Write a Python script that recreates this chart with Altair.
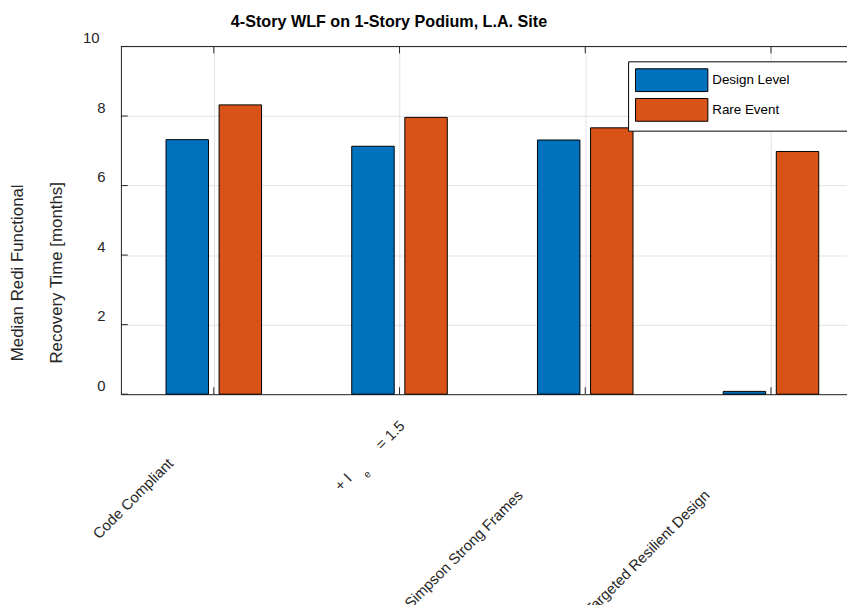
import json
import altair as alt
import pandas as pd

# ---- data ----
NB = "\u00a0"   # non-breaking space (kept by the renderer)
ZW = "\u200b"   # zero-width char that stops trailing spaces being trimmed
categories = ["Code Compliant", "+ I_e = 1.5", "+ Simpson Strong Frames", "Targeted Resilient Design"]
# how each tick label is drawn (the second one mimics the broken TeX subscript of the original)
category_labels = [
    "Code Compliant",
    ["+ I" + NB * 10 + "= 1.5", "\u2091" + NB * 14 + ZW],
    "+ Simpson Strong Frames",
    "Targeted Resilient Design",
]
series = ["Design Level", "Rare Event"]
design_level = [7.32, 7.13, 7.31, 0.08]
rare_event = [8.32, 7.96, 7.66, 6.98]
y_ticks = [0, 2, 4, 6, 8, 10]
x_ticks = [1, 2, 3, 4]
title_text = "4-Story WLF on 1-Story Podium, L.A. Site"
y_title = ["Median Redi Functional", "Recovery Time [months]"]

rows = []
for i, c in enumerate(categories):
    rows.append({"category": c, "idx": i + 1, "series": series[0], "value": design_level[i]})
    rows.append({"category": c, "idx": i + 1, "series": series[1], "value": rare_event[i]})
df = pd.DataFrame(rows)

# ---- styling ----
FONT = "Liberation Sans"
AX = "#262626"
GRID = "#e3e3e3"
COLORS = ["#0072BD", "#D95319"]
GROUP_OFFSET = 0.1429
BAR_HALF = 0.1143
W, H = 733, 351
PX_X = 187.5          # pixels per category unit
PX_Y = H / 10.0       # pixels per y unit
X_DOMAIN = [0.5, 0.5 + W / PX_X]
TICK_LEN = 7          # inward tick length in px

label_expr = json.dumps(category_labels, ensure_ascii=False) + "[datum.value - 1]"
x_label_dx = [-44, 2, -66, -65]
x_label_dy = [67, 29, 99, 99]


def per_label(vals):
    return {
        "condition": [{"test": f"datum.value == {i + 1}", "value": v} for i, v in enumerate(vals[:-1])],
        "value": vals[-1],
    }


x_axis = alt.Axis(
    values=x_ticks,
    labelExpr=label_expr,
    labelAngle=-45,
    labelAlign="right",
    labelBaseline="middle",
    labelLineHeight=9,
    labelFontSize=15,
    labelColor=AX,
    labelFont=FONT,
    labelOffset=per_label(x_label_dx),
    labelPadding=per_label(x_label_dy),
    labelOverlap=False,
    labelBound=False,
    labelFlush=False,
    ticks=False,
    grid=True,
    gridColor=GRID,
    domainColor=AX,
    title=None,
)

y_axis = alt.Axis(
    values=y_ticks,
    labelFontSize=15,
    labelColor=AX,
    labelFont=FONT,
    labelAlign="right",
    labelBaseline="alphabetic",
    labelOffset=-4,
    labelPadding={"condition": {"test": "datum.value == 10", "value": 22}, "value": 16},
    ticks=False,
    grid=True,
    gridColor=GRID,
    domainColor=AX,
    title=y_title,
    titleFont=FONT,
    titleFontSize=17,
    titleFontWeight="normal",
    titleColor=AX,
    titleLineHeight=39,
    titleAngle=270,
    titleAlign="center",
    titleBaseline="middle",
    titleX=-104,
    titleY=228,
)

legend = alt.Legend(
    title=None,
    orient="none",
    legendX=512,
    legendY=15,
    padding=7,
    strokeColor="black",
    fillColor="white",
    rowPadding=2,
    symbolType="M-1,-1H5.35V1H-1Z",
    symbolSize=529,
    symbolStrokeColor="black",
    symbolStrokeWidth=1,
    symbolOpacity=1,
    labelOffset=54,
    labelFontSize=13.5,
    labelFont=FONT,
    labelColor="black",
    labelExpr="datum.label + '" + NB * 11 + "\u2800'",
    labelLimit=300,
)

bars = (
    alt.Chart(df)
    .transform_calculate(
        pos=f"datum.idx + (datum.series == '{series[0]}' ? -{GROUP_OFFSET} : {GROUP_OFFSET})"
    )
    .transform_calculate(x0=f"datum.pos - {BAR_HALF}", x1=f"datum.pos + {BAR_HALF}")
    .mark_rect(stroke="black", strokeWidth=1)
    .encode(
        x=alt.X("x0:Q", scale=alt.Scale(domain=X_DOMAIN, nice=False, zero=False), axis=x_axis),
        x2="x1:Q",
        y=alt.Y("value:Q", scale=alt.Scale(domain=[0, 10], nice=False), axis=y_axis),
        y2=alt.datum(0),
        color=alt.Color("series:N", scale=alt.Scale(domain=series, range=COLORS), legend=legend),
    )
)

top_border = (
    alt.Chart(pd.DataFrame({"top": [y_ticks[-1]]}))
    .mark_rule(color=AX, strokeWidth=1)
    .encode(y="top:Q", x=alt.datum(X_DOMAIN[0]), x2=alt.datum(X_DOMAIN[1]))
)

# inward tick marks (MATLAB style), placed at the axis tick values
y_tick_marks = (
    alt.Chart(pd.DataFrame({"v": y_ticks}))
    .transform_calculate(a=str(X_DOMAIN[0]), b=f"{X_DOMAIN[0]} + {TICK_LEN / PX_X}")
    .mark_rule(color=AX, strokeWidth=1)
    .encode(y="v:Q", x="a:Q", x2="b:Q")
)
x_tick_bottom = (
    alt.Chart(pd.DataFrame({"v": x_ticks}))
    .transform_calculate(a="0", b=f"{TICK_LEN / PX_Y}")
    .mark_rule(color=AX, strokeWidth=1)
    .encode(x="v:Q", y="a:Q", y2="b:Q")
)
x_tick_top = (
    alt.Chart(pd.DataFrame({"v": x_ticks}))
    .transform_calculate(a="10", b=f"10 - {TICK_LEN / PX_Y}")
    .mark_rule(color=AX, strokeWidth=1)
    .encode(x="v:Q", y="a:Q", y2="b:Q")
)

title = (
    alt.Chart(pd.DataFrame({"t": [title_text]}))
    .mark_text(font=FONT, fontSize=16.3, fontWeight="bold", color="black", align="left", baseline="alphabetic")
    .encode(text="t:N", x=alt.value(111), y=alt.value(-20))
)

chart = (
    alt.layer(bars, y_tick_marks, x_tick_bottom, x_tick_top, top_border, title)
    .properties(
        width=W,
        height=H,
        autosize=alt.AutoSizeParams(type="none"),
        padding={"left": 114, "top": 36, "right": 0, "bottom": 210},
    )
    .configure_view(stroke=None)
    .configure(font=FONT)
)

chart.save("out.html", embed_options={"renderer": "svg", "actions": False})
